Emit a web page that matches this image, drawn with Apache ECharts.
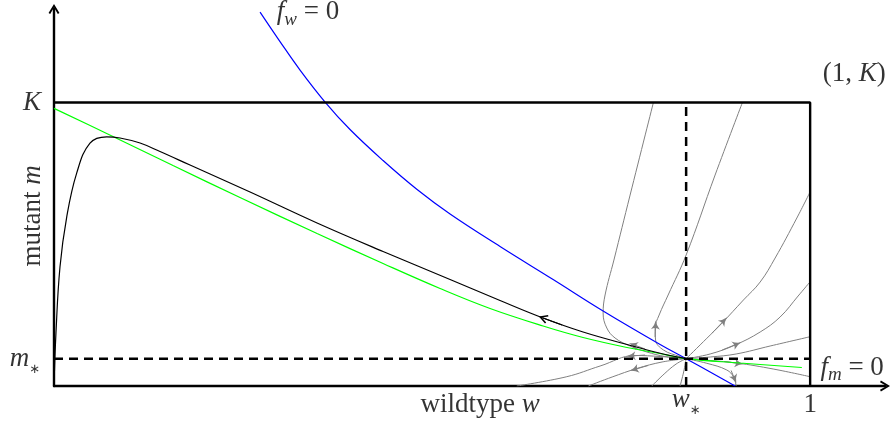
<!DOCTYPE html>
<html>
<head>
<meta charset="utf-8">
<script src="https://cdn.jsdelivr.net/npm/echarts@6/dist/echarts.min.js"></script>
<style>
  html, body { margin: 0; padding: 0; background: #fff; }
  #chart { width: 893px; height: 429px; }
</style>
</head>
<body>
<div id="chart"></div>
<script>
// w = wildtype (0..1), m = mutant in units of K
const K = 1;
const wStar = 0.836;
const mStar = 0.0963;

// nullcline f_w = 0 (blue)
const blueNullcline = [[0.2725,1.3192],[0.2989,1.2152],[0.3254,1.1146],[0.3585,1.0018],[0.3915,0.9048],
  [0.4352,0.7954],[0.4802,0.6931],[0.5238,0.6067],[0.5899,0.4921],[0.6601,0.3757],[0.7262,0.2646],
  [0.8016,0.1464],[0.836,0.0963],[0.9008,0]];
// green curve
const greenCurve = [[0,0.9795],[0.0697,0.8907],[0.1574,0.7778],[0.246,0.6649],[0.3479,0.5379],
  [0.4352,0.4321],[0.5106,0.3439],[0.5767,0.2734],[0.6468,0.2116],[0.6997,0.1711],[0.7579,0.1358],
  [0.7976,0.1164],[0.836,0.0963],[0.9074,0.0811],[0.989,0.0653]];
// black orbit
const blackOrbit = [[0,0],[0.0026,0.187],[0.0079,0.42],[0.0168,0.596],[0.030,0.751],[0.0476,0.857],
  [0.0697,0.879],[0.0873,0.8748],[0.1138,0.8571],[0.1402,0.8272],[0.1799,0.7795],[0.2593,0.6843],
  [0.3479,0.575],[0.4352,0.4744],[0.5238,0.3757],[0.5899,0.3016],[0.6468,0.2399],[0.6997,0.1905],
  [0.7579,0.1464],[0.7976,0.1182],[0.836,0.0963]];
const blackArrow = [[0.672,0.2152],[0.6468,0.2399]];

// grey orbits around (w*, m*)
const gray1 = [[0.7927,1],[0.7619,0.6737],[0.7405,0.4444],[0.7288,0.321],[0.7262,0.2575],[0.7311,0.2046],
  [0.742,0.1693],[0.7619,0.1411],[0.784,0.12],[0.8082,0.1041],[0.836,0.0963]];
const gray2 = [[0.9104,1],[0.8743,0.7443],[0.836,0.4621],[0.8122,0.321],[0.8003,0.2504],[0.795,0.2046],
  [0.7956,0.1623],[0.806,0.127],[0.828,0.1034],[0.836,0.0963]];
const gray3 = [[0.836,0.0963],[0.8634,0.1683],[0.8832,0.2212],[0.9118,0.3034],[0.9339,0.3668],
  [0.9537,0.4515],[0.9824,0.5926],[1,0.685]];
const gray4 = [[0.836,0.0963],[0.8677,0.1129],[0.9008,0.1446],[0.9339,0.1905],[0.9603,0.2434],
  [0.9841,0.3175],[1,0.3679]];
const gray5 = [[0.836,0.0963],[0.8677,0.1023],[0.9021,0.1129],[0.9471,0.1411],[1,0.1739]];
const gray6 = [[0.836,0.0963],[0.8677,0.0899],[0.903,0.0811],[0.9511,0.06],[1,0.0328]];
const gray7 = [[0.836,0.0963],[0.8634,0.0801],[0.8898,0.0564],[0.8988,0.0317],[0.9021,0]];
const gray8 = [[0.836,0.0963],[0.8327,0.0494],[0.828,0]];
const gray9 = [[0.836,0.0963],[0.8228,0.0776],[0.8069,0.0423],[0.7906,0]];
const gray10 = [[0.836,0.0963],[0.8042,0.0847],[0.7708,0.0617],[0.7381,0.0317],[0.7067,0]];
const gray11 = [[0.836,0.0963],[0.8016,0.104],[0.7685,0.1076],[0.7222,0.0705],[0.6782,0.0328],[0.612,0]];
const grayArrows = [
  [[0.7817,0.1305],[0.7659,0.1464]],
  [[0.795,0.1728],[0.7956,0.2152]],
  [[0.8704,0.187],[0.8862,0.231]],
  [[0.8836,0.127],[0.9034,0.1481]],
  [[0.8862,0.0864],[0.9061,0.0794]],
  [[0.8955,0.0547],[0.9001,0.0247]],
  [[0.7857,0.0723],[0.7672,0.058]],
  [[0.7817,0.1093],[0.7632,0.1058]]
];

const serif = 'Liberation Serif';
const rich = {
  it: { fontFamily: serif, fontStyle: 'italic', fontSize: 27, lineHeight: 34, color: '#000' },
  rm: { fontFamily: serif, fontSize: 27, lineHeight: 34, color: '#000' },
  sub: { fontFamily: serif, fontStyle: 'italic', fontSize: 19, lineHeight: 19, verticalAlign: 'bottom', color: '#000' },
  star: { fontFamily: 'DejaVu Sans', fontSize: 13, lineHeight: 17, verticalAlign: 'bottom', color: '#000' }
};

function curve(data, color, width) {
  return {
    type: 'line', data: data, showSymbol: false, symbol: 'none', smooth: 0.4,
    lineStyle: { color: color, width: width }, silent: true, animation: false
  };
}

function label(pos, text, offset, rotate) {
  return {
    value: pos,
    label: {
      show: true, formatter: text, position: offset, align: 'center', verticalAlign: 'middle',
      rotate: rotate || 0, rich: rich
    }
  };
}

const chart = echarts.init(document.getElementById('chart'));
const grayArrowPath = 'path://M5,0 Q6,6 10,11 Q5,7.5 0,11 Q4,6 5,0 Z';
const chevron = 'path://M0,10 L6,0 L12,10 L10.2,11 L6,3.8 L1.8,11 Z';

const option = {
  animation: false,
  grid: { left: 54, right: 8, top: 9, bottom: 43 },
  xAxis: {
    type: 'value', min: 0, max: 1.099,
    axisLine: { lineStyle: { color: '#000', width: 2.4 }, symbol: ['none', chevron], symbolSize: [13, 10] },
    axisTick: { show: false }, axisLabel: { show: false }, splitLine: { show: false }
  },
  yAxis: {
    type: 'value', min: 0, max: 1.33,
    axisLine: { show: true, lineStyle: { color: '#000', width: 2.4 }, symbol: ['none', chevron], symbolSize: [13, 10] },
    axisTick: { show: false }, axisLabel: { show: false }, splitLine: { show: false }
  },
  series: [
    curve(gray1, '#808080', 1), curve(gray2, '#808080', 1), curve(gray3, '#808080', 1),
    curve(gray4, '#808080', 1), curve(gray5, '#808080', 1), curve(gray6, '#808080', 1),
    curve(gray7, '#808080', 1), curve(gray8, '#808080', 1), curve(gray9, '#808080', 1),
    curve(gray10, '#808080', 1), curve(gray11, '#808080', 1),
    {
      type: 'lines', coordinateSystem: 'cartesian2d', silent: true,
      symbol: ['none', grayArrowPath], symbolSize: [7, 9],
      lineStyle: { color: '#808080', width: 1, opacity: 1, curveness: 0 },
      data: grayArrows.map(c => ({ coords: c }))
    },
    curve(greenCurve, '#00ff00', 1.2),
    curve(blueNullcline, '#0000ff', 1.2),
    curve(blackOrbit, '#000', 1.2),
    {
      type: 'lines', coordinateSystem: 'cartesian2d', silent: true,
      symbol: ['none', chevron], symbolSize: [11, 9],
      lineStyle: { color: '#000', width: 1.2, opacity: 1, curveness: 0 },
      data: [{ coords: blackArrow }]
    },
    // box
    { type: 'line', data: [[0, K], [1, K], [1, 0]], showSymbol: false, symbol: 'none',
      lineStyle: { color: '#000', width: 2.4 }, silent: true },
    // dashed levels
    { type: 'line', data: [[0, mStar], [1, mStar]], showSymbol: false, symbol: 'none',
      lineStyle: { color: '#000', width: 2.5, type: [9, 6] }, silent: true },
    { type: 'line', data: [[wStar, 0], [wStar, K]], showSymbol: false, symbol: 'none',
      lineStyle: { color: '#000', width: 2.5, type: [9, 6] }, silent: true },
    // labels
    {
      type: 'scatter', symbolSize: 0, silent: true, z: 10,
      data: [
        label([0, K], '{it|K}', [-22, 0]),
        label([0, mStar], '{it|m}{star|∗}', [-29, 0]),
        label([wStar, 0], '{it|w}{star|∗}', [0, 14]),
        label([1, 0], '{rm|1}', [0, 19]),
        label([0.5635, 0], '{rm|wildtype }{it|w}', [0, 19]),
        label([0, 0.6], '{rm|mutant }{it|m}', [-21, 0], 90),
        label([1, K], '{rm|(1, }{it|K}{rm|)}', [44, -29]),
        label(blueNullcline[0], '{it|f}{sub|w}{rm| = 0}', [48, 0]),
        label([1, mStar], '{it|f}{sub|m}{rm| = 0}', [42, 9])
      ]
    }
  ]
};
chart.setOption(option);
</script>
</body>
</html>
